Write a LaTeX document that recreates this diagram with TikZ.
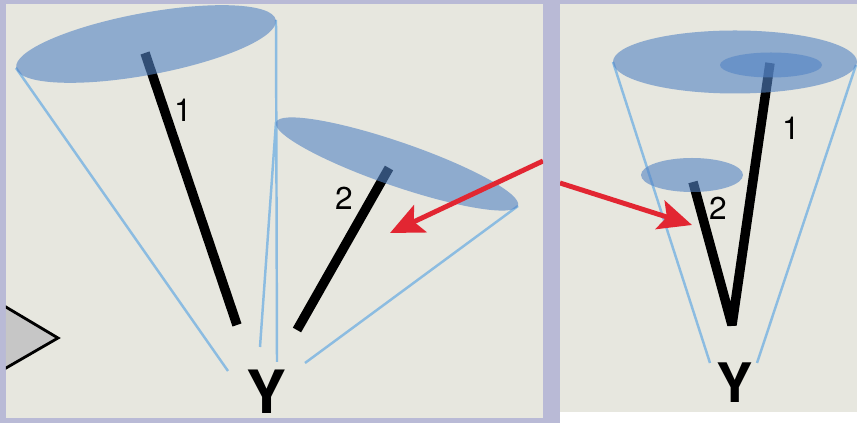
\documentclass[tikz,border=0pt]{standalone}
\usepackage{fontspec}
\setmainfont{TeX Gyre Heros}
\usetikzlibrary{arrows.meta}
\definecolor{frame}{RGB}{185,186,214}
\definecolor{paper}{RGB}{231,231,223}
\definecolor{discblue}{RGB}{83,131,196}
\definecolor{coneblue}{RGB}{140,188,225}
\definecolor{arrowred}{RGB}{226,38,50}
\tikzset{
  disc/.style={fill=discblue, fill opacity=0.6},
  coneline/.style={draw=coneblue, line width=1.4pt},
  branch/.style={draw=black, line width=5.4pt, line join=bevel},
  redarrow/.style={draw=arrowred, line width=2.8pt,
    -{Stealth[length=19pt,width=17pt,inset=4pt]}},
  num/.style={inner sep=0pt, font=\fontsize{18}{18}\selectfont},
  root/.style={inner sep=0pt, font=\fontsize{34}{34}\selectfont\bfseries}
}
\begin{document}
\begin{tikzpicture}
  \fill[frame] (0,0) rectangle (17.14,8.46);
  \fill[paper] (0.12,0.10) rectangle (10.86,8.38);
  \fill[paper] (11.2,0.22) rectangle (17.14,8.38);
  \fill[white] (11.2,0) rectangle (17.14,0.22);
  % left panel: two separate cones
  \begin{scope}
    \clip (0.12,0.10) rectangle (10.86,8.38);
    \filldraw[fill=gray!45, draw=black, line width=1.6pt]
      (0,2.39) -- (1.16,1.70) -- (0,1.03) -- cycle;
    \coordinate (rimA) at (0.32,7.10);
    \coordinate (rimB) at (5.52,8.06);
    \coordinate (rimC) at (5.52,6.02);
    \coordinate (rimD) at (10.36,4.34);
    \coordinate (baseA) at (4.56,1.04);
    \coordinate (baseB) at (5.54,1.22);
    \coordinate (baseC) at (5.20,1.52);
    \coordinate (baseD) at (6.10,1.20);
    \draw[coneline] (rimA) -- (baseA);
    \draw[coneline] (rimB) -- (baseB);
    \draw[coneline] (rimC) -- (baseC);
    \draw[coneline] (rimD) -- (baseD);
    \coordinate (top1) at (2.90,7.40);
    \coordinate (foot1) at (4.74,1.96);
    \coordinate (top2) at (7.78,5.10);
    \coordinate (foot2) at (5.94,1.86);
    \draw[branch] (top1) -- (foot1);
    \draw[branch] (top2) -- (foot2);
    \fill[disc, rotate around={10.5:(2.92,7.58)}] (2.92,7.58) ellipse (2.64 and 0.62);
    \fill[disc, rotate around={-19:(7.94,5.18)}] (7.94,5.18) ellipse (2.56 and 0.44);
    \coordinate (inL) at (10.86,5.24);
    \coordinate (tipL) at (7.80,3.80);
    \draw[redarrow] (inL) -- (tipL);
  \end{scope}
  \node[num] (one) at (3.66,6.26) {1};
  \node[num] (two) at (6.88,4.50) {2};
  \node[root] (y) at (5.32,0.63) {Y};
  % right panel: one cone, nested
  \begin{scope}
    \clip (11.2,0.22) rectangle (17.14,8.38);
    \coordinate (rimE) at (12.26,7.22);
    \coordinate (rimF) at (17.12,7.16);
    \coordinate (baseE) at (14.20,1.20);
    \coordinate (baseF) at (15.14,1.20);
    \draw[coneline] (rimE) -- (baseE);
    \draw[coneline] (rimF) -- (baseF);
    \coordinate (topR1) at (15.40,7.20);
    \coordinate (topR2) at (13.86,4.82);
    \coordinate (footR) at (14.64,1.96);
    \draw[branch] (topR1) -- (footR) -- (topR2);
    \fill[disc] (14.70,7.22) ellipse (2.44 and 0.63);
    \fill[disc] (15.42,7.16) ellipse (1.02 and 0.25);
    \fill[disc] (13.84,4.96) ellipse (1.02 and 0.34);
    \coordinate (inR) at (11.20,4.80);
    \coordinate (tipR) at (13.84,3.96);
    \draw[redarrow] (inR) -- (tipR);
  \end{scope}
  \node[num] (oneR) at (15.82,5.90) {1};
  \node[num] (twoR) at (14.36,4.30) {2};
  \node[root, font=\fontsize{31}{31}\selectfont\bfseries] (yR) at (14.70,0.80) {Y};
\end{tikzpicture}
\end{document}
